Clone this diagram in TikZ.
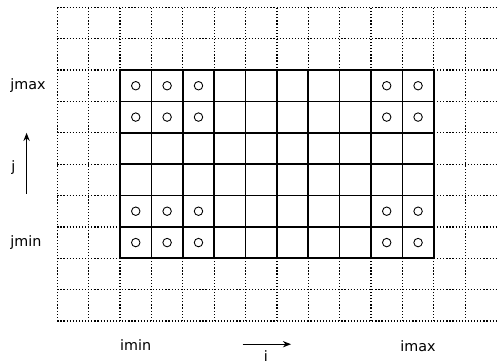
\documentclass[tikz,border=0pt]{standalone}
\usepackage{fontspec}
\setmainfont{DejaVu Sans}
\usetikzlibrary{arrows.meta}

\begin{document}
\begin{tikzpicture}[
  >={Stealth[length=2.6mm, width=2mm]},
  ghost/.style={line width=1.1pt, dash pattern=on 1.1pt off 1.7pt},
  inner/.style={line width=1.5pt},
  cell/.style={line width=0.8pt},
  lbl/.style={font=\fontsize{13}{15}\selectfont},
]
\useasboundingbox (-1.827,-1.37) rectangle (14.016,10.233);

% Ghost cells (dotted)
\foreach \x in {0,...,13}
  \draw[ghost] (\x,0) -- (\x,10);
\foreach \y in {0,...,10}
  \draw[ghost] (0,\y) -- (14,\y);

% Interior cells
\fill[white] (2,2) rectangle (12,8);
\draw[inner] (2,2) grid (12,8);

% Boundary points
\foreach \x in {2,3,4,10,11}
  \foreach \y in {2,3,6,7}
    \draw[cell] (\x+0.5,\y+0.5) circle (0.135);

% Index labels
\node[lbl, anchor=west] (jmax) at (-1.62,7.5) {jmax};
\node[lbl, anchor=west] (jmin) at (-1.62,2.5) {jmin};
\node[lbl] (imin) at (2.5,-0.78) {imin};
\node[lbl] (imax) at (11.5,-0.8) {imax};

% Directions
\coordinate (jtail) at (-0.98,4.05);
\coordinate (jhead) at (-0.98,6.0);
\draw[->, line width=1.1pt] (jtail) -- (jhead);
\node[lbl] (jdir) at (-1.4,4.88) {j};

\coordinate (itail) at (5.91,-0.74);
\coordinate (ihead) at (7.45,-0.74);
\draw[->, line width=1.1pt] (itail) -- (ihead);
\node[lbl, inner sep=0pt, anchor=north] (idir) at (6.65,-0.93) {i};

\end{tikzpicture}
\end{document}
